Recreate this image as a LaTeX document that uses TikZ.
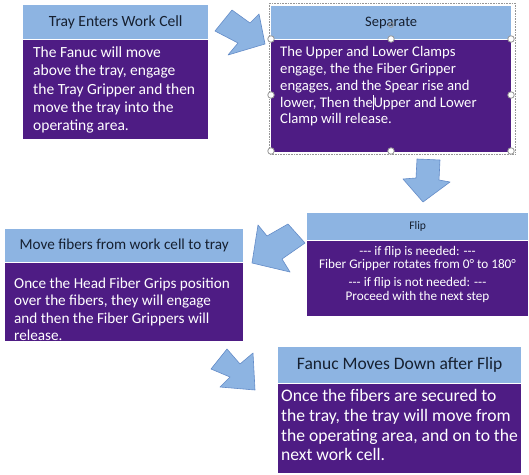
\documentclass[tikz,border=0pt]{standalone}
\usepackage{fontspec}
\setmainfont{Carlito}
\definecolor{hdrblue}{RGB}{141,180,226}
\definecolor{purp}{RGB}{78,28,132}
\definecolor{hdrtext}{RGB}{22,32,48}
\definecolor{arrfill}{RGB}{141,180,226}
\definecolor{arrline}{RGB}{100,140,200}
\definecolor{handle}{RGB}{150,150,150}
\begin{document}
\begin{tikzpicture}[x=1pt,y=-1pt,
  hdr/.style={fill=hdrblue, anchor=north west, inner sep=0pt, text=hdrtext},
  body/.style={fill=purp, anchor=north west, inner sep=0pt},
  btext/.style={text=white, anchor=north west, align=left, inner sep=0pt},
  blockarrow/.style={fill=arrfill, draw=arrline, line width=0.6pt, line join=round},
  hnd/.style={circle, fill=white, draw=handle, line width=0.8pt, minimum size=6.5pt, inner sep=0pt}]
\useasboundingbox (0,0) rectangle (529,474);
\fill[white] (0,0) rectangle (529,474);

% Box 1
\node[hdr, minimum width=185pt, minimum height=34pt, font=\fontsize{15.6}{17}\selectfont] (h1) at (23,5) {Tray Enters Work Cell};
\node[body, minimum width=185pt, minimum height=99pt] (b1) at (h1.south west) {};
\node[btext, font=\fontsize{15.5}{18.3}\selectfont] (t1) at (33,46.5) {The Fanuc will move\\above the tray, engage\\the Tray Gripper and then\\move the tray into the\\operating area.};

% Box 2 (Separate) with selection frame
\draw[handle, densely dotted, line width=0.6pt] (269,3) rectangle (515,154);
\node[hdr, minimum width=240pt, minimum height=33pt, font=\fontsize{14.5}{16}\selectfont] (h2) at (271,6) {Separate};
\node[body, minimum width=240pt, minimum height=112pt] (b2) at (h2.south west) {};
\node[btext, font=\fontsize{14.7}{16.7}\selectfont] (t2) at (280,46.5) {The Upper and Lower Clamps\\engage, the the Fiber Gripper\\engages, and the Spear rise and\\lower, Then the\rule[-0.2em]{0.5pt}{1.05em}Upper and Lower\\Clamp will release.};
\foreach \n/\p in {c1/{(271,39)}, c2/{(391,39)}, c3/{(511,39)}, c4/{(271,95)}, c5/{(511,95)}, c6/{(271,151)}, c7/{(391,151)}, c8/{(511,151)}}
  \node[hnd] (\n) at \p {};
\node[circle, draw=handle, line width=0.8pt, minimum size=5pt, inner sep=0pt] (rot) at (391,25) {};

% Box 3 (Flip)
\node[hdr, minimum width=221pt, minimum height=27pt, font=\fontsize{11.6}{13}\selectfont] (h3) at (307,213) {Flip};
\node[body, minimum width=221pt, minimum height=75pt] (b3) at (h3.south west) {};
\node[text=white, align=center, inner sep=0pt, anchor=north, font=\fontsize{13.2}{13}\selectfont] (t3) at (417.5,246.5) {{-}{-}{-} if flip is needed: {-}{-}{-}\\Fiber Gripper rotates from 0° to 180°\\[4.5pt]{-}{-}{-} if flip is not needed: {-}{-}{-}\\[1.5pt]Proceed with the next step};

% Box 4 (Move fibers)
\node[hdr, minimum width=238pt, minimum height=33pt, font=\fontsize{15.2}{17}\selectfont] (h4) at (5,229) {Move fibers from work cell to tray};
\node[body, minimum width=238pt, minimum height=78pt] (b4) at (h4.south west) {};
\node[btext, font=\fontsize{15.2}{17.5}\selectfont] (t4) at (14,277.5) {Once the Head Fiber Grips position\\over the fibers, they will engage\\and then the Fiber Grippers will\\release.};

% Box 5 (Fanuc)
\node[hdr, minimum width=243pt, minimum height=36pt, font=\fontsize{17.5}{19}\selectfont] (h5) at (278,347) {Fanuc Moves Down after Flip};
\node[body, minimum width=243pt, minimum height=89pt] (b5) at (h5.south west) {};
\node[btext, font=\fontsize{17.6}{19.6}\selectfont] (t5) at (281,389.5) {Once the fibers are secured to\\the tray, the tray will move from\\the operating area, and on to the\\next work cell.};

% Block arrows
\draw[blockarrow] (215,31) -- (232,10) -- (250,23) -- (259,14) -- (265,44) -- (228,55) -- (238,43) -- cycle;
\draw[blockarrow] (417,159) -- (440,160) -- (439,180) -- (450,182) -- (423,202) -- (403,179) -- (416,178) -- cycle;
\draw[blockarrow] (288,224) -- (305,243) -- (282,259) -- (290,272) -- (252,263) -- (258,225) -- (267,236) -- cycle;
\draw[blockarrow] (227,349) -- (240,364) -- (253,353) -- (255,390) -- (220,387) -- (230,377) -- (211,369) -- cycle;
\end{tikzpicture}
\end{document}
